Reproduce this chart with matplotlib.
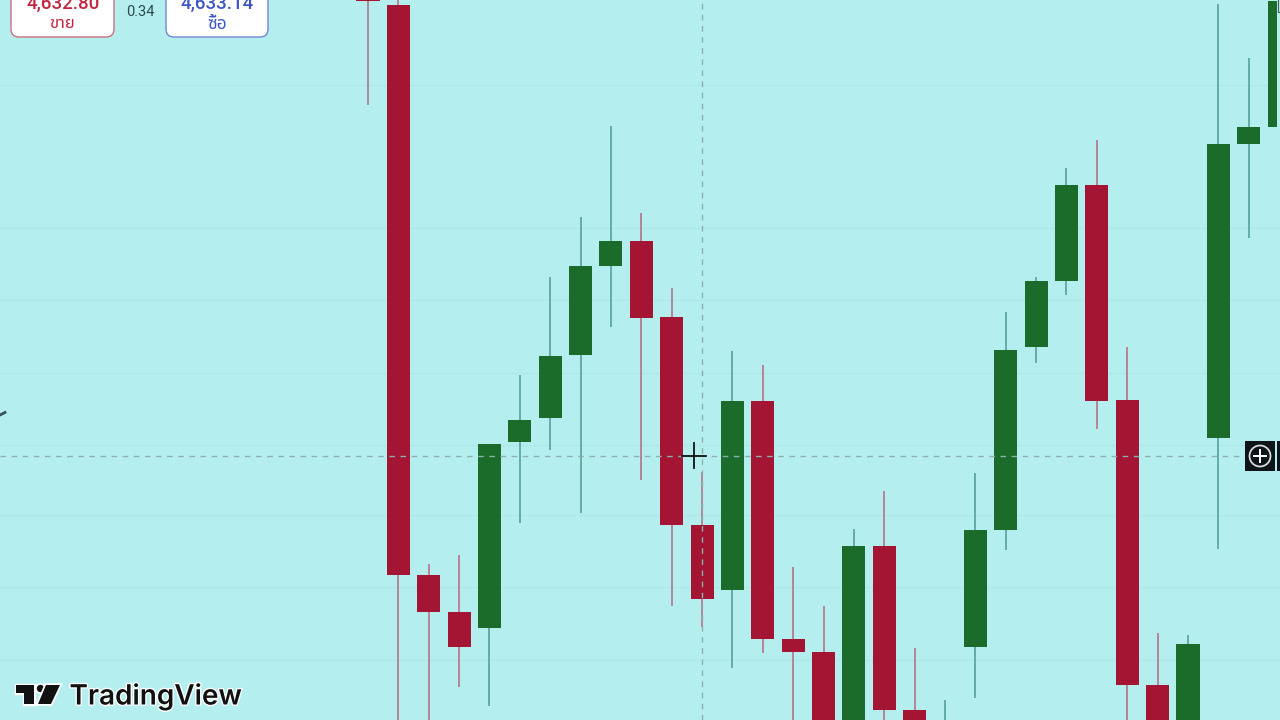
import matplotlib
matplotlib.use('Agg')
import matplotlib.pyplot as plt
import matplotlib.patheffects as pe
from matplotlib.patches import FancyBboxPatch, Polygon, Circle, Rectangle

# values, chart units (0 = bottom edge, 720 = top edge)
opens  = [730, 715, 145, 108, 92, 278, 302, 365, 454, 479, 403, 195, 130, 319, 81, 68, -10, 174, 10, -20, 73, 190, 373, 439, 535, 320, 35, -10, 282, 576, 593]
closes = [719, 145, 108, 73, 276, 300, 364, 454, 479, 402, 195, 121, 319, 81, 68, -10, 174, 10, -20, -5, 190, 370, 439, 535, 319, 35, -10, 76, 576, 593, 719]
highs  = [735, 720, 156, 165, 276, 345, 443, 503, 594, 507, 432, 248, 369, 355, 153, 114, 191, 229, 72, 20, 247, 408, 443, 552, 580, 373, 87, 85, 716, 662, 719]
lows   = [615, -30, -30, 33, 14, 197, 270, 207, 393, 240, 114, 93, 52, 67, -30, -30, -30, -30, -30, -30, 22, 170, 357, 425, 291, -30, -30, -30, 171, 482, 593]
grid_levels = [635, 492, 420, 347, 275, 205, 133, 60]
cross_x = 11
cross_y = 264

bid_text = '4,632.80'
ask_text = '4,633.14'
spread_text = '0.34'

RED = '#A31533'
GREEN = '#1B6B2A'
BG = '#B5EEEF'

fig = plt.figure(figsize=(12.8, 7.2), dpi=100, facecolor=BG)
ax = fig.add_axes([0, 0, 1, 1], facecolor=BG)
ax.set_xlim(-12.117, 30.03)
ax.set_ylim(0, 720)
ax.axis('off')

for g in grid_levels:
    ax.axhline(g, color='#AEE8E9', lw=1, zorder=1)

for i in range(len(opens)):
    c = GREEN if closes[i] >= opens[i] else RED
    wick = '#4f9a8e' if c == GREEN else '#B8687F'
    ax.vlines(i, lows[i], highs[i], color=wick, lw=1.1, zorder=2)
    ax.bar(i, abs(closes[i] - opens[i]), bottom=min(opens[i], closes[i]),
           width=0.76, color=c, zorder=3)

ax.axvline(cross_x, color='#8FAEAF', lw=1, ls=(0, (4, 4)), zorder=5)
ax.axhline(cross_y, color='#8FAEAF', lw=1, ls=(0, (4, 4)), zorder=5)

# overlay in pixel coordinates for the widgets
ov = fig.add_axes([0, 0, 1, 1], facecolor='none')
ov.set_xlim(0, 1280)
ov.set_ylim(720, 0)
ov.axis('off')

# right edge cuts the last candle
ov.add_patch(Rectangle((1276.5, 0), 4, 135, fc=BG, ec='none'))
ov.plot([1277.5, 1277.5, 1280], [0, 12, 12], color='#4a5a5c', lw=0.8)

thai = ['Noto Sans Thai', 'Noto Sans', 'DejaVu Sans', 'Liberation Sans']
ov.add_patch(FancyBboxPatch((11, -20), 103, 57, boxstyle='round,pad=0,rounding_size=8',
                            fc='white', ec='#C9707F', lw=1))
ov.add_patch(FancyBboxPatch((166, -20), 102, 57, boxstyle='round,pad=0,rounding_size=8',
                            fc='white', ec='#6F86D0', lw=1))
ov.text(63, 4, bid_text, color='#C4243F', fontsize=13.5, fontweight='medium', ha='center', va='center', family='Roboto')
ov.text(217, 4, ask_text, color='#3E56C4', fontsize=13.5, fontweight='medium', ha='center', va='center', family='Roboto')
ov.text(62, 24, 'ขาย', color='#C4243F', fontsize=12, ha='center', va='center', family=thai)
ov.text(217, 24, 'ซื้อ', color='#3E56C4', fontsize=12.5, ha='center', va='center', family=thai)
ov.text(140, 12.5, spread_text, color='#2c4a4c', fontsize=10.5, ha='center', va='center', family='Roboto')

# small stray mark at left edge
ov.plot([0, 5], [415, 412.5], color='#3c5058', lw=2)

# crosshair cursor
ov.plot([682, 706], [456, 456], color='#111111', lw=1.3, zorder=8)
ov.plot([693.5, 693.5], [443, 468], color='#111111', lw=1.3, zorder=8)

# plus button
ov.add_patch(Rectangle((1245, 441), 30, 30, fc='#0E1418', ec='none', zorder=8))
ov.add_patch(Rectangle((1277, 441), 5, 30, fc='#0E1418', ec='none', zorder=8))
ov.add_patch(Circle((1260, 456), 10.5, fc='none', ec='#D8DADA', lw=1.3, zorder=9))
ov.plot([1254, 1266], [456, 456], color='white', lw=1.4, zorder=9)
ov.plot([1260, 1260], [450, 462], color='white', lw=1.4, zorder=9)

# TradingView logo
halo = [pe.Stroke(linewidth=2.5, foreground='white'), pe.Normal()]
ov.add_patch(Polygon([(16, 685), (34, 685), (34, 704), (24, 704), (24, 693), (16, 693)], fc='#111111', ec='none', path_effects=halo))
ov.add_patch(Circle((40.5, 688.5), 3.7, fc='#111111', ec='none', path_effects=halo))
ov.add_patch(Polygon([(46, 685), (60, 685), (51, 704), (38, 704)], fc='#111111', ec='none', path_effects=halo))
ov.text(69.5, 696.5, 'TradingView', color='#111111', fontsize=20.1, fontweight='semibold', family='Inter',
        ha='left', va='center', path_effects=[pe.withStroke(linewidth=2, foreground='white')])

fig.savefig('out.png', dpi=100, facecolor=BG)
